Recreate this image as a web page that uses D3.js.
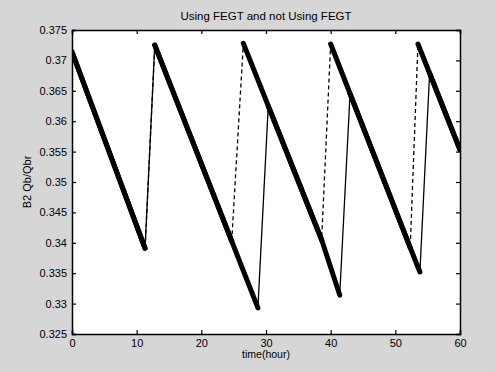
<!DOCTYPE html>
<html>
<head>
<meta charset="utf-8">
<script src="https://cdn.jsdelivr.net/npm/d3@7"></script>
<style>
  body { margin: 0; background: #d6d6d6; }
  svg { display: block; }
  text { font-family: "Liberation Sans", Arial, sans-serif; fill: #000; }
</style>
</head>
<body>
<svg id="chart" width="495" height="372"></svg>
<script>
// values: [time (hour), B2 Qb/Qbr]
const notUsingFEGT = [
  [0, 0.3714], [11.3, 0.3391], [12.8, 0.3725], [28.75, 0.3293],
  [30.35, 0.3625], [38.6, 0.3405], [41.4, 0.3314], [43.0, 0.3645],
  [52.3, 0.3392], [53.8, 0.3352], [55.3, 0.3679], [60, 0.3553]
];
const usingFEGT = [
  [0, 0.3714], [11.3, 0.3391], [12.8, 0.3725], [24.7, 0.3403],
  [26.5, 0.3728], [38.6, 0.3405], [40.0, 0.3727], [52.3, 0.3392],
  [53.5, 0.3727], [60, 0.3553]
];
const xTicks = [0, 10, 20, 30, 40, 50, 60];
const yTicks = [0.325, 0.33, 0.335, 0.34, 0.345, 0.35, 0.355, 0.36, 0.365, 0.37, 0.375];

const svg = d3.select('#chart');
const margin = { top: 30, right: 35, bottom: 38, left: 72 };
const width = 495, height = 372;
const innerWidth = width - margin.left - margin.right;
const innerHeight = height - margin.top - margin.bottom;

const x = d3.scaleLinear().domain([0, 60]).range([0, innerWidth]);
const y = d3.scaleLinear().domain([0.325, 0.375]).range([innerHeight, 0]);

const g = svg.append('g').attr('transform', `translate(${margin.left},${margin.top})`);

g.append('rect')
  .attr('width', innerWidth)
  .attr('height', innerHeight)
  .attr('fill', '#fff');

// clip so thick strokes stay inside the box
g.append('clipPath').attr('id', 'clip')
  .append('rect').attr('width', innerWidth).attr('height', innerHeight);

const plot = g.append('g').attr('clip-path', 'url(#clip)');
const line = d3.line().x(d => x(d[0])).y(d => y(d[1]));

// thin rising jumps: solid for one series, dashed for the other
plot.append('path')
  .datum(notUsingFEGT)
  .attr('fill', 'none')
  .attr('stroke', '#000')
  .attr('stroke-width', 1.3)
  .attr('d', line);

plot.append('path')
  .datum(usingFEGT)
  .attr('fill', 'none')
  .attr('stroke', '#000')
  .attr('stroke-width', 1.3)
  .attr('stroke-dasharray', '4,3')
  .attr('d', line);

// falling parts are drawn heavy in the original
function fallingSegments(data) {
  return d3.pairs(data).filter(p => p[1][1] < p[0][1]);
}
[notUsingFEGT, usingFEGT].forEach(series => {
  plot.selectAll(null)
    .data(fallingSegments(series))
    .enter()
    .append('path')
    .attr('fill', 'none')
    .attr('stroke', '#000')
    .attr('stroke-width', 5)
    .attr('stroke-linecap', 'round')
    .attr('d', line);
});

// axes with inward ticks on all four sides
const fmtY = d => String(+d.toFixed(3));
const axB = g.append('g').attr('transform', `translate(0,${innerHeight})`)
  .call(d3.axisBottom(x).tickValues(xTicks).tickSize(-4).tickPadding(5));
const axT = g.append('g')
  .call(d3.axisTop(x).tickValues(xTicks).tickSize(-4));
const axL = g.append('g')
  .call(d3.axisLeft(y).tickValues(yTicks).tickSize(-4).tickPadding(5).tickFormat(fmtY));
const axR = g.append('g').attr('transform', `translate(${innerWidth},0)`)
  .call(d3.axisRight(y).tickValues(yTicks).tickSize(-4));

// top and right only carry tick marks
axT.selectAll('text').remove();
axR.selectAll('text').remove();

[axB, axT, axL, axR].forEach(a => {
  a.select('.domain').attr('stroke', '#000').attr('stroke-width', 1.5);
  a.selectAll('.tick line').attr('stroke', '#000').attr('stroke-width', 1.2);
  a.selectAll('text').attr('font-size', 11).attr('font-family', '"Liberation Sans", Arial, sans-serif');
});

// titles
svg.append('text')
  .attr('x', margin.left + innerWidth / 2)
  .attr('y', 20)
  .attr('text-anchor', 'middle')
  .attr('font-size', 11.5)
  .text('Using FEGT and not Using FEGT');

svg.append('text')
  .attr('x', margin.left + innerWidth / 2)
  .attr('y', 358)
  .attr('text-anchor', 'middle')
  .attr('font-size', 10.5)
  .text('time(hour)');

svg.append('text')
  .attr('transform', `translate(31,${margin.top + innerHeight / 2}) rotate(-90)`)
  .attr('text-anchor', 'middle')
  .attr('font-size', 11)
  .text('B2 Qb/Qbr');
</script>
</body>
</html>
